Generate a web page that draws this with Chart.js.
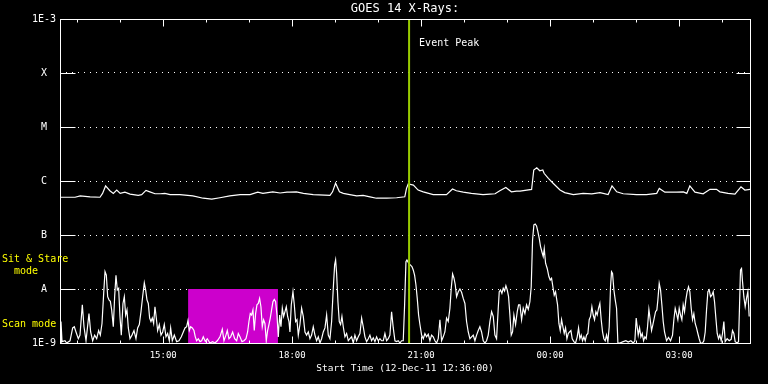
<!DOCTYPE html>
<html>
<head>
<meta charset="utf-8">
<title>GOES 14 X-Rays</title>
<script src="https://cdn.jsdelivr.net/npm/chart.js@4.4.1/dist/chart.umd.min.js"></script>
<style>
  html, body { margin: 0; padding: 0; background: #000; }
  canvas { display: block; background: #000; }
</style>
</head>
<body>
<canvas id="xrayChart" width="768" height="384"></canvas>
<script>
// Times are hours after the start time (12-Dec-11 12:36:00), flux in W/m^2

// 1-8 Angstrom channel (upper curve)
const longTimes = [
    0, 0.35, 0.47, 0.70, 0.93, 0.99, 1.06, 1.16, 1.24, 1.32,
    1.40, 1.51, 1.63, 1.82, 1.90, 2.00, 2.09, 2.21, 2.33, 2.44,
    2.56, 2.79, 3.09, 3.33, 3.53, 3.72, 3.95, 4.19, 4.42, 4.60,
    4.72, 4.95, 5.12, 5.28, 5.35, 5.50, 5.66, 5.89, 6.28, 6.34,
    6.41, 6.50, 6.59, 6.74, 6.90, 7.05, 7.21, 7.36, 7.60, 7.83,
    8.02, 8.06, 8.10, 8.22, 8.33, 8.45, 8.68, 8.99, 9.13, 9.22,
    9.38, 9.57, 9.84, 10.00, 10.12, 10.23, 10.37, 10.50, 10.62, 10.70,
    10.97, 11.02, 11.09, 11.16, 11.23, 11.26, 11.36, 11.47, 11.63, 11.74,
    11.94, 12.17, 12.37, 12.56, 12.75, 12.84, 12.95, 13.10, 13.41, 13.64,
    13.88, 13.94, 14.07, 14.34, 14.50, 14.58, 14.65, 14.77, 14.96, 15.12,
    15.27, 15.35, 15.54, 15.70, 15.84, 15.93, 16.05
];
const longFlux = [
    5.0e-7, 5.0e-7, 5.3e-7, 5.1e-7, 5.0e-7, 5.9e-7, 8.1e-7, 6.6e-7, 5.9e-7, 6.8e-7,
    5.9e-7, 6.2e-7, 5.7e-7, 5.4e-7, 5.6e-7, 6.7e-7, 6.3e-7, 5.8e-7, 5.8e-7, 5.9e-7,
    5.6e-7, 5.6e-7, 5.3e-7, 4.8e-7, 4.6e-7, 4.9e-7, 5.3e-7, 5.6e-7, 5.6e-7, 6.2e-7,
    5.9e-7, 6.3e-7, 6.0e-7, 6.2e-7, 6.2e-7, 6.3e-7, 5.9e-7, 5.6e-7, 5.4e-7, 6.3e-7,
    9.1e-7, 6.3e-7, 5.9e-7, 5.6e-7, 5.3e-7, 5.4e-7, 5.1e-7, 4.8e-7, 4.8e-7, 4.9e-7,
    5.1e-7, 7.3e-7, 8.8e-7, 8.4e-7, 6.8e-7, 6.3e-7, 5.6e-7, 5.6e-7, 7.1e-7, 6.6e-7,
    6.2e-7, 5.9e-7, 5.6e-7, 5.7e-7, 5.8e-7, 6.6e-7, 7.6e-7, 6.3e-7, 6.5e-7, 6.5e-7,
    7.0e-7, 1.6e-6, 1.76e-6, 1.55e-6, 1.6e-6, 1.39e-6, 1.12e-6, 9.1e-7, 6.8e-7, 6.1e-7,
    5.6e-7, 5.9e-7, 5.8e-7, 6.1e-7, 5.6e-7, 8.1e-7, 6.3e-7, 5.8e-7, 5.6e-7, 5.6e-7,
    5.9e-7, 7.3e-7, 6.2e-7, 6.2e-7, 6.3e-7, 5.9e-7, 8.1e-7, 6.2e-7, 5.8e-7, 7.0e-7,
    7.0e-7, 6.3e-7, 5.9e-7, 5.7e-7, 7.8e-7, 6.8e-7, 7.0e-7
];

// 0.5-4 Angstrom channel (lower curve)
const shortTimes = [
    0, 0.023, 0.047, 0.116, 0.155, 0.233, 0.295, 0.333, 0.372, 0.426,
    0.465, 0.519, 0.558, 0.605, 0.674, 0.713, 0.760, 0.806, 0.853, 0.899,
    0.938, 0.977, 1.016, 1.047, 1.078, 1.109, 1.140, 1.171, 1.202, 1.240,
    1.271, 1.302, 1.333, 1.364, 1.395, 1.426, 1.465, 1.496, 1.527, 1.558,
    1.589, 1.628, 1.674, 1.721, 1.767, 1.806, 1.845, 1.884, 1.922, 1.961,
    1.992, 2.023, 2.054, 2.085, 2.116, 2.147, 2.178, 2.209, 2.240, 2.271,
    2.310, 2.349, 2.388, 2.426, 2.465, 2.504, 2.543, 2.574, 2.612, 2.659,
    2.713, 2.767, 2.822, 2.868, 2.907, 2.946, 2.977, 3.008, 3.039, 3.078,
    3.116, 3.147, 3.178, 3.217, 3.256, 3.295, 3.333, 3.380, 3.426, 3.488,
    3.550, 3.605, 3.659, 3.721, 3.775, 3.814, 3.860, 3.891, 3.930, 3.969,
    4.016, 4.062, 4.109, 4.147, 4.186, 4.233, 4.279, 4.326, 4.364, 4.395,
    4.426, 4.457, 4.488, 4.519, 4.550, 4.581, 4.612, 4.643, 4.674, 4.705,
    4.736, 4.767, 4.798, 4.829, 4.860, 4.891, 4.922, 4.953, 4.984, 5.016,
    5.047, 5.078, 5.109, 5.140, 5.171, 5.202, 5.233, 5.264, 5.295, 5.326,
    5.349, 5.380, 5.419, 5.450, 5.481, 5.512, 5.543, 5.581, 5.620, 5.659,
    5.698, 5.736, 5.775, 5.814, 5.853, 5.891, 5.930, 5.969, 6.008, 6.047,
    6.085, 6.124, 6.163, 6.202, 6.240, 6.279, 6.318, 6.357, 6.388, 6.411,
    6.434, 6.465, 6.496, 6.527, 6.558, 6.589, 6.628, 6.667, 6.706, 6.744,
    6.783, 6.822, 6.860, 6.899, 6.938, 6.977, 7.016, 7.054, 7.093, 7.132,
    7.171, 7.209, 7.248, 7.287, 7.326, 7.364, 7.403, 7.442, 7.481, 7.519,
    7.558, 7.597, 7.636, 7.674, 7.713, 7.752, 7.791, 7.829, 7.868, 7.907,
    7.946, 7.984, 8.016, 8.047, 8.070, 8.109, 8.147, 8.186, 8.217, 8.248,
    8.279, 8.310, 8.341, 8.372, 8.411, 8.450, 8.488, 8.527, 8.566, 8.605,
    8.643, 8.682, 8.721, 8.760, 8.798, 8.837, 8.876, 8.915, 8.953, 8.992,
    9.031, 9.070, 9.101, 9.132, 9.163, 9.194, 9.225, 9.264, 9.302, 9.341,
    9.380, 9.419, 9.457, 9.496, 9.535, 9.574, 9.612, 9.651, 9.690, 9.729,
    9.767, 9.806, 9.845, 9.884, 9.922, 9.961, 10.000, 10.039, 10.078, 10.116,
    10.155, 10.194, 10.217, 10.248, 10.279, 10.310, 10.341, 10.372, 10.403, 10.434,
    10.465, 10.496, 10.527, 10.558, 10.597, 10.636, 10.667,
    10.698, 10.737, 10.775, 10.814, 10.853, 10.892, 10.930, 10.961, 10.992, 11.023,
    11.054, 11.085, 11.116, 11.147, 11.178, 11.209, 11.240, 11.264, 11.295, 11.333,
    11.372, 11.403, 11.434, 11.465, 11.496, 11.527, 11.550, 11.574, 11.605, 11.636,
    11.667, 11.698, 11.729, 11.760, 11.791, 11.822, 11.853, 11.884, 11.915, 11.953,
    11.992, 12.031, 12.062, 12.093, 12.124, 12.155, 12.186, 12.217, 12.248, 12.279,
    12.310, 12.341, 12.372, 12.403, 12.434, 12.465, 12.496, 12.527, 12.558, 12.589,
    12.620, 12.651, 12.682, 12.713, 12.744, 12.775, 12.806, 12.829, 12.853, 12.884,
    12.915, 12.946, 12.977, 13.023, 13.101, 13.163, 13.217, 13.279, 13.333, 13.372,
    13.403, 13.426, 13.450, 13.481, 13.512, 13.543, 13.574, 13.605, 13.636, 13.667,
    13.698, 13.729, 13.760, 13.791, 13.822, 13.853, 13.884, 13.907, 13.938, 13.969,
    14.000, 14.031, 14.062, 14.109, 14.155, 14.202, 14.248, 14.279, 14.310, 14.341,
    14.372, 14.403, 14.434, 14.465, 14.496, 14.527, 14.558, 14.589, 14.620, 14.651,
    14.682, 14.713, 14.744, 14.775, 14.806, 14.837, 14.868, 14.899, 14.946, 14.977,
    15.008, 15.039, 15.070, 15.101, 15.132, 15.163, 15.194, 15.225, 15.256, 15.287,
    15.318, 15.349, 15.380, 15.411, 15.442, 15.473, 15.519, 15.566, 15.612, 15.643,
    15.674, 15.705, 15.752, 15.783, 15.806, 15.829, 15.853, 15.876, 15.907, 15.938,
    15.969, 16.000, 16.031
];
const shortFlux = [
    1.0e-9, 2.5e-9, 1.06e-9, 1.1e-9, 1.0e-9, 1.1e-9, 1.9e-9, 2.0e-9, 1.6e-9, 1.2e-9,
    1.4e-9, 5.1e-9, 2.0e-9, 1.1e-9, 3.5e-9, 1.6e-9, 1.1e-9, 1.4e-9, 1.2e-9, 1.7e-9,
    1.4e-9, 2.3e-9, 8.3e-9, 2.1e-8, 1.8e-8, 7.2e-9, 6.3e-9, 5.9e-9, 4.1e-9, 2.0e-9,
    7.2e-9, 1.8e-8, 9.6e-9, 1.03e-8, 3.1e-9, 1.4e-9, 5.4e-9, 7.2e-9, 3.3e-9, 4.1e-9,
    1.9e-9, 1.2e-9, 1.4e-9, 1.7e-9, 1.2e-9, 1.9e-9, 2.2e-9, 3.8e-9, 7.2e-9, 1.3e-8,
    9.6e-9, 6.3e-9, 5.4e-9, 2.9e-9, 2.5e-9, 2.9e-9, 2.3e-9, 4.7e-9, 2.9e-9, 1.7e-9,
    2.2e-9, 1.4e-9, 1.6e-9, 2.2e-9, 1.3e-9, 1.5e-9, 1.1e-9, 1.9e-9, 1.1e-9, 1.4e-9,
    1.06e-9, 1.1e-9, 1.3e-9, 1.6e-9, 1.9e-9, 2.0e-9, 2.6e-9, 1.7e-9, 2.0e-9, 1.9e-9,
    1.7e-9, 1.3e-9, 1.1e-9, 1.2e-9, 1.06e-9, 1.1e-9, 1.3e-9, 1.07e-9, 1.2e-9, 1.0e-9,
    1.06e-9, 1.0e-9, 1.1e-9, 1.3e-9, 1.8e-9, 1.1e-9, 1.4e-9, 1.7e-9, 1.2e-9, 1.3e-9,
    1.6e-9, 1.2e-9, 1.1e-9, 1.5e-9, 1.3e-9, 1.06e-9, 1.1e-9, 1.2e-9, 1.6e-9, 2.5e-9,
    3.5e-9, 3.3e-9, 4.1e-9, 1.7e-9, 3.5e-9, 5.1e-9, 5.4e-9, 6.7e-9, 4.7e-9, 2.0e-9,
    2.7e-9, 2.3e-9, 1.1e-9, 1.7e-9, 2.2e-9, 2.9e-9, 4.1e-9, 5.8e-9, 6.4e-9, 5.8e-9,
    3.3e-9, 1.3e-9, 3.3e-9, 2.0e-9, 4.4e-9, 3.1e-9, 3.8e-9, 4.7e-9, 3.1e-9, 2.5e-9,
    1.6e-9, 5.1e-9, 8.9e-9, 5.1e-9, 2.5e-9, 2.7e-9, 1.4e-9, 2.2e-9, 4.4e-9, 3.1e-9,
    1.6e-9, 1.4e-9, 1.6e-9, 1.2e-9, 1.4e-9, 2.0e-9, 1.4e-9, 1.1e-9, 1.3e-9, 1.0e-9,
    1.2e-9, 1.6e-9, 1.9e-9, 3.3e-9, 1.4e-9, 1.2e-9, 2.5e-9, 1.03e-8, 2.8e-8, 3.45e-8,
    1.95e-8, 5.8e-9, 2.5e-9, 2.2e-9, 3.1e-9, 2.0e-9, 1.3e-9, 1.5e-9, 1.1e-9, 1.2e-9,
    1.3e-9, 1.0e-9, 1.4e-9, 1.1e-9, 1.3e-9, 1.5e-9, 2.9e-9, 2.0e-9, 1.3e-9, 1.06e-9,
    1.2e-9, 1.4e-9, 1.1e-9, 1.25e-9, 1.06e-9, 1.3e-9, 1.1e-9, 1.2e-9, 1.1e-9, 1.1e-9,
    1.5e-9, 1.1e-9, 1.2e-9, 1.4e-9, 3.8e-9, 1.9e-9, 1.1e-9, 1.06e-9, 1.1e-9, 1.0e-9,
    1.1e-9, 1.1e-9, 5.1e-9, 3.2e-8, 3.45e-8, 3.0e-8, 2.8e-8, 2.6e-8, 2.25e-8, 1.8e-8,
    1.2e-8, 6.7e-9, 3.3e-9, 2.2e-9, 1.4e-9, 1.2e-9, 1.5e-9, 1.3e-9, 1.45e-9, 1.1e-9,
    1.4e-9, 1.3e-9, 1.1e-9, 1.0e-9, 1.2e-9, 2.7e-9, 1.1e-9, 1.3e-9, 1.6e-9, 2.9e-9,
    2.5e-9, 4.4e-9, 1.03e-8, 1.9e-8, 1.6e-8, 1.2e-8, 7.2e-9, 8.9e-9, 1.0e-8, 8.7e-9,
    6.7e-9, 5.4e-9, 2.5e-9, 1.6e-9, 1.2e-9, 1.3e-9, 1.4e-9, 1.1e-9, 1.4e-9, 1.7e-9,
    2.0e-9, 1.6e-9, 1.1e-9, 1.0e-9, 1.1e-9, 1.4e-9, 2.5e-9, 3.8e-9, 3.1e-9, 1.4e-9,
    1.2e-9, 4.4e-9, 8.9e-9, 9.6e-9, 8.3e-9, 1.03e-8, 9.2e-9, 1.15e-8, 9.6e-9, 7.2e-9,
    3.3e-9, 1.4e-9, 1.6e-9, 3.3e-9, 2.2e-9, 3.8e-9, 5.1e-9,
    5.1e-9, 2.7e-9, 4.4e-9, 3.5e-9, 5.1e-9, 4.2e-9, 5.8e-9, 1.1e-8, 8.1e-8, 1.54e-7,
    1.6e-7, 1.47e-7, 1.15e-7, 8.7e-8, 6.1e-8, 4.9e-8, 4.0e-8, 5.6e-8, 3.0e-8, 2.4e-8,
    1.7e-8, 1.47e-8, 1.58e-8, 1.1e-8, 7.7e-9, 8.9e-9, 6.7e-9, 5.1e-9, 2.3e-9, 1.7e-9,
    2.7e-9, 2.0e-9, 1.5e-9, 1.9e-9, 1.2e-9, 1.5e-9, 1.6e-9, 1.7e-9, 1.2e-9, 1.06e-9,
    1.0e-9, 1.3e-9, 1.9e-9, 1.2e-9, 1.4e-9, 1.1e-9, 1.3e-9, 1.1e-9, 1.4e-9, 1.5e-9,
    2.7e-9, 3.1e-9, 4.7e-9, 3.3e-9, 2.7e-9, 3.8e-9, 3.3e-9, 4.4e-9, 5.4e-9, 2.7e-9,
    1.6e-9, 1.2e-9, 1.1e-9, 1.4e-9, 1.06e-9, 2.0e-9, 1.1e-8, 2.1e-8, 1.95e-8, 9.6e-9,
    6.3e-9, 4.4e-9, 1.0e-9, 1.0e-9, 1.06e-9, 1.1e-9, 1.04e-9, 1.1e-9, 1.0e-9, 1.1e-9,
    2.9e-9, 2.0e-9, 1.4e-9, 1.9e-9, 1.3e-9, 1.5e-9, 1.1e-9, 1.3e-9, 1.2e-9, 2.0e-9,
    4.2e-9, 2.7e-9, 1.7e-9, 2.2e-9, 2.9e-9, 3.8e-9, 4.1e-9, 6.3e-9, 1.27e-8, 9.6e-9,
    5.1e-9, 2.5e-9, 1.6e-9, 1.1e-9, 1.27e-9, 1.1e-9, 1.4e-9, 2.7e-9, 4.4e-9, 3.5e-9,
    2.7e-9, 4.4e-9, 3.3e-9, 2.7e-9, 5.1e-9, 3.8e-9, 6.3e-9, 8.9e-9, 1.1e-8, 8.9e-9,
    4.4e-9, 2.7e-9, 3.5e-9, 2.3e-9, 1.9e-9, 1.5e-9, 1.2e-9, 1.0e-9, 1.0e-9, 1.1e-9,
    1.6e-9, 4.1e-9, 8.9e-9, 9.6e-9, 7.2e-9, 7.7e-9, 8.9e-9, 5.8e-9, 2.9e-9, 1.5e-9,
    1.2e-9, 1.4e-9, 1.1e-9, 1.5e-9, 2.5e-9, 1.06e-9, 1.2e-9, 1.1e-9, 1.17e-9, 1.7e-9,
    1.5e-9, 1.06e-9, 1.0e-9, 1.06e-9, 4.7e-9, 2.25e-8, 2.4e-8, 1.37e-8, 7.2e-9, 4.7e-9,
    6.7e-9, 8.9e-9, 3.1e-9
];

// Axis ticks: flare classes on y, clock hours on x
const yTickValues = [1e-9, 1e-8, 1e-7, 1e-6, 1e-5, 1e-4, 1e-3];
const yTickLabels = ['1E-9', 'A', 'B', 'C', 'M', 'X', '1E-3'];
const hourTicks = [0.4, 1.4, 2.4, 3.4, 4.4, 5.4, 6.4, 7.4, 8.4, 9.4, 10.4, 11.4, 12.4, 13.4, 14.4, 15.4];
const hourLabels = ['', '', '15:00', '', '', '18:00', '', '', '21:00', '', '', '00:00', '', '', '03:00', ''];

// Scan mode window (hours) and its flux ceiling, event peak time (hours)
const scanWindow = [2.98, 5.07];
const scanTop = 1e-8;
const eventHour = 8.12;

const MONO = '"DejaVu Sans Mono", "Liberation Mono", monospace';

// Frame, inward tick marks and the extra labels around the plot
const decorations = {
    id: 'decorations',
    beforeDraw(chart) {
        const ctx = chart.ctx;
        ctx.save();
        ctx.fillStyle = '#000000';
        ctx.fillRect(0, 0, chart.width, chart.height);
        ctx.restore();
    },
    afterDraw(chart) {
        const {ctx, chartArea: a, scales: {x, y}} = chart;
        const left = Math.round(a.left) + 0.5;
        const right = Math.round(a.right) + 0.5;
        const top = Math.round(a.top) + 0.5;
        const bottom = Math.round(a.bottom) + 0.5;

        ctx.save();
        ctx.strokeStyle = '#ffffff';
        ctx.lineWidth = 1;
        ctx.beginPath();
        yTickValues.forEach(v => {
            const py = Math.round(y.getPixelForValue(v)) + 0.5;
            ctx.moveTo(left, py); ctx.lineTo(left + 15, py);
            ctx.moveTo(right - 14, py); ctx.lineTo(right, py);
        });
        hourTicks.forEach((h, i) => {
            const px = Math.round(x.getPixelForValue(h)) + 0.5;
            const len = hourLabels[i] ? 7 : 3;
            ctx.moveTo(px, top); ctx.lineTo(px, top + len);
            ctx.moveTo(px, bottom); ctx.lineTo(px, bottom - len);
        });
        ctx.stroke();
        ctx.strokeRect(left, top, right - left, bottom - top);

        ctx.textBaseline = 'middle';
        ctx.textAlign = 'left';
        ctx.font = '10px ' + MONO;
        ctx.fillStyle = '#ffffff';
        ctx.fillText('Event Peak', x.getPixelForValue(eventHour) + 10, a.top + 24);

        ctx.fillStyle = '#ffff00';
        ctx.fillText('Sit & Stare', 2, 259);
        ctx.fillText('  mode', 2, 271);
        ctx.fillText('Scan mode', 2, 324);
        ctx.restore();
    }
};

const toPoints = (times, values) => times.map((t, i) => ({x: t, y: values[i]}));

new Chart(document.getElementById('xrayChart'), {
    type: 'line',
    data: {
        datasets: [
            {
                // scan mode shading
                data: [{x: scanWindow[0], y: scanTop}, {x: scanWindow[1], y: scanTop}],
                borderColor: 'rgba(0,0,0,0)',
                borderWidth: 0,
                backgroundColor: '#cc00cc',
                fill: 'start',
                pointRadius: 0,
                order: 3
            },
            {
                data: toPoints(longTimes, longFlux),
                borderColor: '#ffffff',
                borderWidth: 1.2,
                pointRadius: 0,
                tension: 0,
                fill: false,
                order: 2
            },
            {
                data: toPoints(shortTimes, shortFlux),
                borderColor: '#ffffff',
                borderWidth: 1.2,
                pointRadius: 0,
                tension: 0,
                fill: false,
                order: 2
            },
            {
                // event peak marker
                data: [{x: eventHour, y: 1e-9}, {x: eventHour, y: 1e-3}],
                borderColor: '#99cc00',
                borderWidth: 2,
                pointRadius: 0,
                fill: false,
                order: 1
            }
        ]
    },
    options: {
        responsive: false,
        animation: false,
        devicePixelRatio: 1,
        events: [],
        layout: { padding: { left: 0, right: 18, top: 0, bottom: 0 } },
        plugins: {
            legend: { display: false },
            tooltip: { enabled: false },
            title: {
                display: true,
                text: 'GOES 14 X-Rays:',
                color: '#ffffff',
                fullSize: false,
                font: { family: MONO, size: 12, weight: 'normal', lineHeight: '14px' },
                padding: { top: 2, bottom: 3 }
            }
        },
        scales: {
            x: {
                type: 'linear',
                min: 0,
                max: 16.05,
                afterBuildTicks: scale => { scale.ticks = hourTicks.map(v => ({value: v})); },
                afterFit: scale => { scale.height = 41; },
                grid: { display: false, drawTicks: false },
                border: { display: false },
                ticks: {
                    color: '#ffffff',
                    font: { family: MONO, size: 9 },
                    padding: 7,
                    autoSkip: false,
                    maxRotation: 0,
                    callback: (v, i) => hourLabels[i]
                },
                title: {
                    display: true,
                    text: 'Start Time (12-Dec-11 12:36:00)',
                    color: '#ffffff',
                    font: { family: MONO, size: 9.5, lineHeight: '11px' },
                    padding: { top: 0, bottom: 10 }
                }
            },
            y: {
                type: 'logarithmic',
                min: 1e-9,
                max: 1e-3,
                afterBuildTicks: scale => { scale.ticks = yTickValues.map(v => ({value: v})); },
                afterFit: scale => { scale.width = 60; },
                grid: { color: '#ffffff', lineWidth: 1, drawTicks: false },
                border: { display: false, dash: [1, 5] },
                ticks: {
                    color: '#ffffff',
                    font: { family: MONO, size: 10 },
                    padding: 4,
                    crossAlign: 'center',
                    autoSkip: false,
                    callback: (v, i) => yTickLabels[i]
                }
            }
        }
    },
    plugins: [decorations]
});
</script>
</body>
</html>
